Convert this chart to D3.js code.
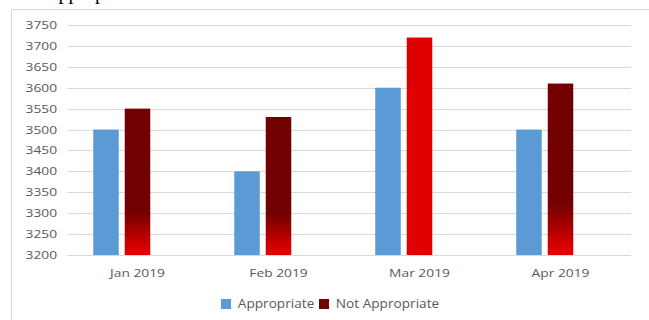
<!DOCTYPE html>
<html>
<head>
<meta charset="utf-8">
<script src="https://cdn.jsdelivr.net/npm/d3@7"></script>
<style>
  body { margin: 0; background: #fff; }
  svg { display: block; }
  text { font-family: "Open Sans", sans-serif; fill: #595959; }
</style>
</head>
<body>
<svg id="chart" width="649" height="320"></svg>
<script>
const months = ["Jan 2019", "Feb 2019", "Mar 2019", "Apr 2019"];
const appropriate = [3500, 3400, 3600, 3500];
const notAppropriate = [3550, 3530, 3720, 3610];
const seriesNames = ["Appropriate", "Not Appropriate"];
const yTicks = [3200, 3250, 3300, 3350, 3400, 3450, 3500, 3550, 3600, 3650, 3700, 3750];

// the one Not Appropriate bar that Excel painted solid red
const solidMonth = "Mar 2019";

const svg = d3.select("#chart");

// heading from the page above, only its descenders show
svg.append("text")
  .attr("x", 44).attr("y", -1)
  .style("font-family", "'Liberation Serif', serif")
  .style("font-size", "20px")
  .style("fill", "#000")
  .text("Appropriate");

// chart frame, runs off the right and bottom edge
svg.append("rect")
  .attr("x", 11.5).attr("y", 9.5)
  .attr("width", 700).attr("height", 400)
  .attr("fill", "none")
  .attr("stroke", "#d9d9d9");

const defs = svg.append("defs");
const grad = defs.append("linearGradient")
  .attr("id", "redfade")
  .attr("x1", 0).attr("y1", 0).attr("x2", 0).attr("y2", 1);
grad.append("stop").attr("offset", 0).attr("stop-color", "#720000");
grad.append("stop").attr("offset", 0.7).attr("stop-color", "#720000");
grad.append("stop").attr("offset", 0.97).attr("stop-color", "#e00000");
grad.append("stop").attr("offset", 1).attr("stop-color", "#e00000");

const plotLeft = 67, plotRight = 631, plotTop = 25, plotBottom = 255;

const y = d3.scaleLinear().domain([3200, 3750]).range([plotBottom, plotTop]);
const x0 = d3.scaleBand().domain(months).range([plotLeft, plotRight]);
// third slot stays empty, as in the source chart
const x1 = d3.scaleBand()
  .domain([...seriesNames, ""])
  .range([0, x0.bandwidth()])
  .paddingInner(0.19)
  .paddingOuter(0.833);

// gridlines
svg.append("g")
  .selectAll("line")
  .data(yTicks)
  .join("line")
  .attr("x1", plotLeft).attr("x2", plotRight)
  .attr("y1", d => Math.round(y(d)) + 0.5)
  .attr("y2", d => Math.round(y(d)) + 0.5)
  .attr("stroke", "#d9d9d9")
  .attr("stroke-width", 1);

// y labels
svg.append("g")
  .selectAll("text")
  .data(yTicks)
  .join("text")
  .attr("transform", d => `translate(57,${y(d) + 4}) scale(1.25,1)`)
  .attr("text-anchor", "end")
  .style("font-size", "11px")
  .text(d => d);

// bars
const rows = months.map((m, i) => ({ month: m, values: [appropriate[i], notAppropriate[i]] }));

const group = svg.append("g")
  .selectAll("g")
  .data(rows)
  .join("g")
  .attr("transform", d => `translate(${x0(d.month)},0)`);

group.selectAll("rect")
  .data(d => d.values.map((v, k) => ({ month: d.month, series: seriesNames[k], value: v })))
  .join("rect")
  .attr("x", d => x1(d.series))
  .attr("width", x1.bandwidth())
  .attr("y", d => y(d.value))
  .attr("height", d => y(3200) - y(d.value))
  .attr("fill", d => {
    if (d.series === "Appropriate") return "#5b9bd5";
    return d.month === solidMonth ? "#e00000" : "url(#redfade)";
  });

// x labels
svg.append("g")
  .selectAll("text")
  .data(months)
  .join("text")
  .attr("transform", d => `translate(${x0(d) + x0.bandwidth() / 2},277) scale(1.2,1)`)
  .attr("text-anchor", "middle")
  .style("font-size", "11.5px")
  .text(d => d);

// legend
const legendColors = ["#5b9bd5", "#720000"];
const legendX = [221, 319];
const legend = svg.append("g")
  .selectAll("g")
  .data(seriesNames)
  .join("g")
  .attr("transform", (d, i) => `translate(${legendX[i]},299)`);

legend.append("rect")
  .attr("width", 10).attr("height", 10)
  .attr("fill", (d, i) => legendColors[i]);

legend.append("text")
  .attr("x", 16).attr("y", 9)
  .style("font-size", "13px")
  .attr("transform", "scale(1.05,1)")
  .text(d => d);
</script>
</body>
</html>
